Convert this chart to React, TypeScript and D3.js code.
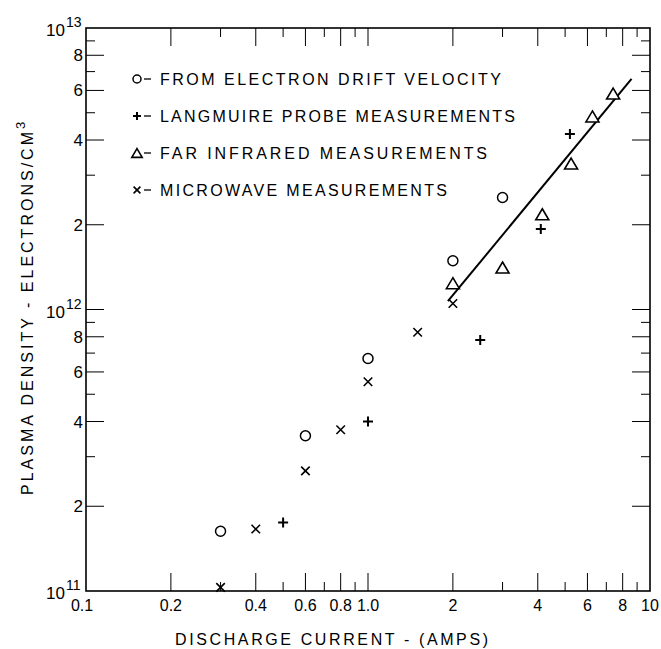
import React from "react";
import * as d3 from "d3";

// discharge current (A) / plasma density (electrons per cm^3)
const driftCurrent = [0.3, 0.6, 1.0, 2.0, 3.0];
const driftDensity = [1.63e11, 3.56e11, 6.7e11, 1.49e12, 2.5e12];

const probeCurrent = [0.5, 1.0, 2.5, 4.1, 5.2];
const probeDensity = [1.75e11, 4.0e11, 7.8e11, 1.93e12, 4.2e12];

const infraredCurrent = [2.0, 3.0, 4.15, 5.25, 6.25, 7.4];
const infraredDensity = [1.24e12, 1.41e12, 2.18e12, 3.3e12, 4.85e12, 5.85e12];

const microwaveCurrent = [0.3, 0.4, 0.6, 0.8, 1.0, 1.5, 2.0];
const microwaveDensity = [1.03e11, 1.66e11, 2.67e11, 3.74e11, 5.54e11, 8.3e11, 1.05e12];

const fitCurrent = [1.92, 8.6];
const fitDensity = [1.07e12, 6.6e12];

const xTickLabels = ["0.1", "0.2", "0.4", "0.6", "0.8", "1.0", "2", "4", "6", "8", "10"];
const xTickValues = [0.1, 0.2, 0.4, 0.6, 0.8, 1, 2, 4, 6, 8, 10];
const yDigitLabels = ["2", "4", "6", "8"];
const yDecades = [11, 12, 13];

const legendLabels = [
  "FROM ELECTRON DRIFT VELOCITY",
  "LANGMUIRE PROBE MEASUREMENTS",
  "FAR INFRARED MEASUREMENTS",
  "MICROWAVE MEASUREMENTS",
];
const legendWidths = [341, 355, 327, 287];

const W = 661;
const H = 649;
const font = "'Liberation Sans', Arial, sans-serif";

const x = d3.scaleLog().domain([0.1, 10]).range([86, 650]);
const y = d3.scaleLog().domain([1e11, 1e13]).range([591, 28]);

// minor/major positions on both log axes
const xTicks = d3.range(-1, 1).flatMap((e) => d3.range(2, 10).map((m) => m * 10 ** e)).concat([1]);
const yTicks = d3.range(11, 13).flatMap((e) => d3.range(2, 10).map((m) => m * 10 ** e)).concat([1e12]);

const isMajorX = (v: number) => xTickValues.some((t) => Math.abs(t - v) < 1e-9);
const isMajorY = (v: number) => {
  const m = v / 10 ** Math.floor(Math.log10(v) + 1e-9);
  return Math.abs(m - 1) < 1e-6 || [2, 4, 6, 8].some((d) => Math.abs(d - m) < 1e-6);
};

type Kind = "circle" | "plus" | "triangle" | "cross";

const Marker = ({ kind, cx, cy, s }: { kind: Kind; cx: number; cy: number; s: number }) => {
  if (kind === "circle")
    return <circle cx={cx} cy={cy} r={s} fill="none" stroke="#000" strokeWidth={1.5} />;
  if (kind === "plus")
    return (
      <path
        d={`M${cx - s},${cy}H${cx + s}M${cx},${cy - s}V${cy + s}`}
        stroke="#000"
        strokeWidth={2}
        fill="none"
      />
    );
  if (kind === "cross") {
    const a = s * 0.85;
    return (
      <path
        d={`M${cx - a},${cy - a}L${cx + a},${cy + a}M${cx - a},${cy + a}L${cx + a},${cy - a}`}
        stroke="#000"
        strokeWidth={1.6}
        fill="none"
      />
    );
  }
  const h = s * 2.2;
  const w = s * 1.3;
  return (
    <path
      d={`M${cx},${cy - h / 2}L${cx + w},${cy + h / 2}L${cx - w},${cy + h / 2}Z`}
      stroke="#000"
      strokeWidth={1.6}
      fill="#fff"
      strokeLinejoin="miter"
    />
  );
};

const series: { kind: Kind; xs: number[]; ys: number[] }[] = [
  { kind: "circle", xs: driftCurrent, ys: driftDensity },
  { kind: "plus", xs: probeCurrent, ys: probeDensity },
  { kind: "cross", xs: microwaveCurrent, ys: microwaveDensity },
  { kind: "triangle", xs: infraredCurrent, ys: infraredDensity },
];
const legendKinds: Kind[] = ["circle", "plus", "triangle", "cross"];

export default function App() {
  const [x0, x1] = x.range();
  const [y0, y1] = y.range();
  const line = d3
    .line<number>()
    .x((_, i) => x(fitCurrent[i]))
    .y((d) => y(d));

  return (
    <svg
      width={W}
      height={H}
      style={{ position: "absolute", left: 0, top: 0, background: "#fff" }}
      fontFamily={font}
    >
      <rect width={W} height={H} fill="#fff" />

      {/* frame */}
      <rect x={x0} y={y1} width={x1 - x0} height={y0 - y1} fill="none" stroke="#000" strokeWidth={1.6} />

      {/* ticks, all four sides, pointing in */}
      <g stroke="#000" strokeWidth={1}>
        {xTicks.map((v) => {
          const len = isMajorX(v) ? 18 : 9;
          return (
            <g key={"xt" + v}>
              <line x1={x(v)} x2={x(v)} y1={y0} y2={y0 - len} />
              <line x1={x(v)} x2={x(v)} y1={y1} y2={y1 + len} />
            </g>
          );
        })}
        {yTicks.map((v) => {
          const len = isMajorY(v) ? 18 : 9;
          return (
            <g key={"yt" + v}>
              <line x1={x0} x2={x0 + len} y1={y(v)} y2={y(v)} />
              <line x1={x1} x2={x1 - len} y1={y(v)} y2={y(v)} />
            </g>
          );
        })}
      </g>

      {/* x tick labels */}
      <g fontSize={16} textAnchor="middle" fill="#000">
        {xTickValues.map((v, i) => (
          <text key={"xl" + v} x={i === 0 ? x(v) - 4 : x(v)} y={y0 + 20}>
            {xTickLabels[i]}
          </text>
        ))}
      </g>

      {/* y tick labels */}
      <g fontSize={17} fill="#000">
        {yDecades.slice(0, 2).flatMap((e) =>
          yDigitLabels.map((d) => (
            <text key={"yl" + e + d} x={x0 - 3} y={y(+d * 10 ** e) + 6} textAnchor="end">
              {d}
            </text>
          ))
        )}
        {yDecades.map((e) => (
          <text key={"yd" + e} x={46} y={y(10 ** e) + 8}>
            10
            <tspan fontSize={14} dx={1} dy={-9}>
              {e}
            </tspan>
          </text>
        ))}
      </g>

      {/* axis titles */}
      <text
        x={175}
        y={645}
        fontSize={16}
        textLength={313}
        lengthAdjust="spacing"
        fill="#000"
      >
        DISCHARGE CURRENT - (AMPS)
      </text>
      <g transform="translate(33,495) rotate(-90)">
        <text x={0} y={0} fontSize={16} textLength={363} lengthAdjust="spacing" fill="#000">
          PLASMA DENSITY - ELECTRONS/CM
        </text>
        <text x={366} y={-8} fontSize={13} fill="#000">
          3
        </text>
      </g>

      {/* legend */}
      <g fill="#000">
        {legendLabels.map((label, i) => {
          const cy = 79 + i * 37;
          return (
            <g key={label}>
              <Marker kind={legendKinds[i]} cx={137} cy={cy} s={4} />
              <line x1={144} x2={151} y1={cy} y2={cy} stroke="#000" strokeWidth={1.3} />
              <text
                x={160}
                y={cy + 6}
                fontSize={16}
                textLength={legendWidths[i]}
                lengthAdjust="spacing"
              >
                {label}
              </text>
            </g>
          );
        })}
      </g>

      {/* fitted line */}
      <path d={line(fitDensity) ?? ""} fill="none" stroke="#000" strokeWidth={2} />

      {/* data */}
      {series.map((s) =>
        s.xs.map((v, i) => (
          <Marker key={s.kind + i} kind={s.kind} cx={x(v)} cy={y(s.ys[i])} s={5} />
        ))
      )}
    </svg>
  );
}
